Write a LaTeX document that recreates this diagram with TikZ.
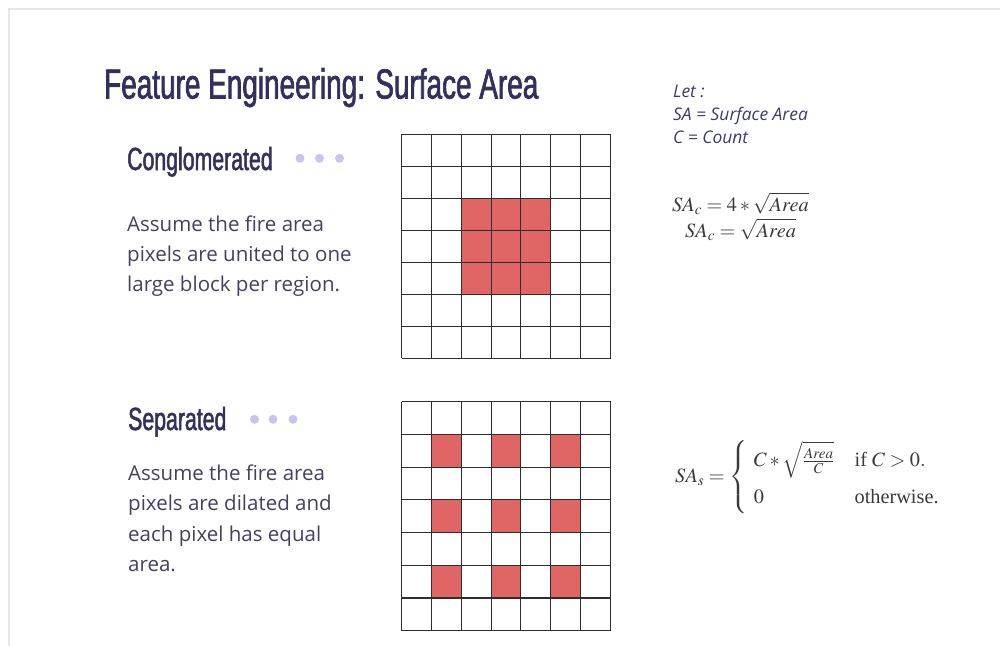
\documentclass[tikz,border=0pt]{standalone}
\usepackage{amsmath}
\usepackage{mathptmx}
\usepackage[no-math]{fontspec}
\setmainfont{Open Sans}
\newfontfamily\headfont[FakeStretch=0.665,FakeBold=1.6]{Liberation Sans}
\newfontfamily\bodyfont{Open Sans}
\newfontfamily\timesfont{Liberation Serif}
\definecolor{titlec}{HTML}{33305E}
\definecolor{bodyc}{HTML}{45425F}
\definecolor{letc}{HTML}{3D3B6B}
\definecolor{mathc}{HTML}{3A3A3A}
\definecolor{firec}{HTML}{E06666}
\definecolor{dotc}{HTML}{C7C5F0}
\definecolor{framec}{HTML}{E6E6E6}
\definecolor{gridc}{HTML}{2E2E2E}
\tikzset{
  title/.style={anchor=base west, inner sep=0pt, text=titlec, font=\headfont\fontsize{42}{50}\selectfont},
  heading/.style={anchor=base west, inner sep=0pt, text=titlec, font=\headfont\fontsize{32}{38}\selectfont},
  body/.style={anchor=base west, inner sep=0pt, text=bodyc, font=\bodyfont\fontsize{20.5}{30}\selectfont},
  lettext/.style={anchor=base west, inner sep=0pt, text=letc, font=\bodyfont\itshape\fontsize{17.4}{20}\selectfont},
  formula/.style={inner sep=0pt, text=mathc, font=\timesfont\fontsize{20.3}{25}\selectfont},
  gridline/.style={draw=gridc, line width=1.1pt},
  fire/.style={fill=firec},
  dot/.style={fill=dotc},
}
\begin{document}
\begin{tikzpicture}[x=1pt,y=-1pt]
\useasboundingbox (0,0) rectangle (1000,645);
\fill[white] (0,0) rectangle (1000,645);
\draw[draw=framec, line width=2pt] (8.5,650) -- (8.5,8.5) -- (1005,8.5);

% title
\node[title] (title) at (104,98.5) {Feature Engineering: Surface Area};

% section 1
\node[heading] (conglom) at (127,170) {Conglomerated};
\fill[dot] (300,158.3) circle (4.5pt);
\fill[dot] (319.5,158.3) circle (4.5pt);
\fill[dot] (339.5,158.3) circle (4.5pt);
\node[body] (b1) at (127,231.7) {Assume the fire area};
\node[body] (b2) at (127,261.7) {pixels are united to one};
\node[body] (b3) at (127,291.7) {large block per region.};

% section 2
\node[heading] (separ) at (128,430) {Separated};
\fill[dot] (254.5,419.3) circle (4.5pt);
\fill[dot] (273,419.3) circle (4.5pt);
\fill[dot] (293,419.3) circle (4.5pt);
\node[body] (c1) at (128,480) {Assume the fire area};
\node[body] (c2) at (128,510.5) {pixels are dilated and};
\node[body] (c3) at (128,541) {each pixel has equal};
\node[body] (c4) at (128,571.5) {area.};

% let
\node[lettext] (let1) at (673,97.3) {Let :};
\node[lettext] (let2) at (673,120) {SA = Surface Area};
\node[lettext] (let3) at (673,143) {C = Count};

% formulas
\node[formula, anchor=center] (f1) at (740.5,218.5) {$\begin{array}{c} SA_c = 4 * \sqrt{Area} \\ SA_c = \sqrt{Area} \end{array}$};
\node[formula, anchor=base west] (f3) at (675,482) {$SA_s = \begin{cases} \;\,C * \sqrt{\frac{Area}{C}} & \text{if } C > 0. \\[7pt] \;\,0 & \text{otherwise.} \end{cases}$};

% grid 1
\foreach \i in {2,3,4}{
  \foreach \j in {2,3,4}{
    \fill[fire] ({401.5+29.857*\i},{134.3+32*\j}) rectangle ({401.5+29.857*(\i+1)},{134.3+32*(\j+1)});
  }
}
\foreach \i in {0,...,7}{
  \draw[gridline] ({401.5+29.857*\i},134.3) -- ({401.5+29.857*\i},358.3);
  \draw[gridline] (401.5,{134.3+32*\i}) -- (610.5,{134.3+32*\i});
}

% grid 2
\foreach \i in {1,3,5}{
  \foreach \j in {1,3,5}{
    \fill[fire] ({401.5+29.857*\i},{401.7+32.714*\j}) rectangle ({401.5+29.857*(\i+1)},{401.7+32.714*(\j+1)});
  }
}
\foreach \i in {0,...,7}{
  \draw[gridline] ({401.5+29.857*\i},401.7) -- ({401.5+29.857*\i},630.7);
  \draw[gridline] (401.5,{401.7+32.714*\i}) -- (610.5,{401.7+32.714*\i});
}
\end{tikzpicture}
\end{document}
